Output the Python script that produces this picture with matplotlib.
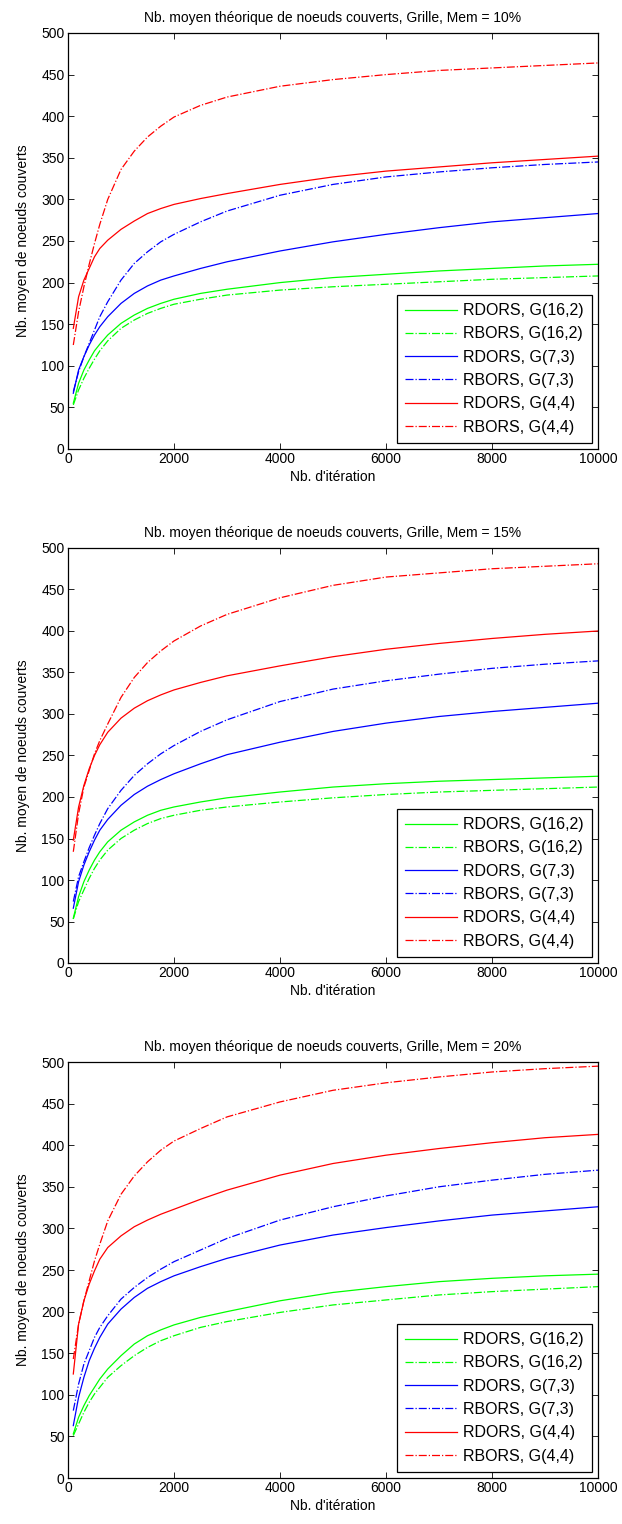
import matplotlib
matplotlib.use("Agg")
import matplotlib.pyplot as plt

plt.rcParams['font.family'] = ['Liberation Sans', 'DejaVu Sans']

iters = [100, 200, 300, 400, 500, 600, 750, 1000, 1250, 1500, 1750, 2000,
         2500, 3000, 4000, 5000, 6000, 7000, 8000, 9000, 10000]

mem_labels = ["10%", "15%", "20%"]
series_labels = ["RDORS, G(16,2)", "RBORS, G(16,2)", "RDORS, G(7,3)",
                 "RBORS, G(7,3)", "RDORS, G(4,4)", "RBORS, G(4,4)"]

# Mem = 10%
m10_rdors_16_2 = [55, 79, 95, 107, 118, 126, 137, 151, 161, 169, 175, 180, 187, 192, 200, 206, 210, 214, 217, 220, 222]
m10_rbors_16_2 = [53, 71, 85, 97, 108, 118, 130, 145, 155, 163, 169, 174, 180, 185, 191, 195, 198, 201, 204, 206, 208]
m10_rdors_7_3 = [67, 95, 111, 125, 137, 147, 159, 175, 187, 196, 203, 208, 217, 225, 238, 249, 258, 266, 273, 278, 283]
m10_rbors_7_3 = [69, 93, 111, 127, 143, 159, 177, 203, 223, 237, 249, 258, 273, 286, 305, 318, 327, 333, 338, 342, 345]
m10_rdors_4_4 = [145, 183, 203, 217, 231, 241, 251, 264, 274, 283, 289, 294, 301, 307, 318, 327, 334, 339, 344, 348, 352]
m10_rbors_4_4 = [125, 165, 195, 222, 247, 270, 300, 336, 358, 375, 388, 399, 413, 423, 436, 444, 450, 455, 458, 461, 464]

# Mem = 15%
m15_rdors_16_2 = [54, 80, 98, 112, 124, 134, 146, 160, 170, 178, 184, 188, 194, 199, 206, 212, 216, 219, 221, 223, 225]
m15_rbors_16_2 = [53, 74, 88, 102, 114, 124, 136, 150, 160, 168, 174, 178, 184, 188, 194, 199, 203, 206, 208, 210, 212]
m15_rdors_7_3 = [66, 98, 118, 134, 148, 160, 173, 190, 203, 213, 221, 228, 240, 251, 266, 279, 289, 297, 303, 308, 313]
m15_rbors_7_3 = [74, 104, 122, 139, 154, 168, 186, 208, 226, 240, 252, 262, 279, 293, 315, 330, 340, 348, 355, 360, 364]
m15_rdors_4_4 = [148, 188, 214, 234, 250, 263, 278, 295, 307, 316, 323, 329, 338, 346, 358, 369, 378, 385, 391, 396, 400]
m15_rbors_4_4 = [134, 180, 212, 232, 252, 268, 288, 320, 344, 362, 376, 388, 406, 420, 440, 455, 465, 470, 475, 478, 481]

# Mem = 20%
m20_rdors_16_2 = [53, 73, 87, 99, 109, 119, 131, 147, 161, 171, 178, 184, 193, 200, 213, 223, 230, 236, 240, 243, 245]
m20_rbors_16_2 = [51, 65, 79, 91, 101, 109, 121, 135, 147, 157, 165, 171, 181, 188, 199, 208, 214, 220, 224, 227, 230]
m20_rdors_7_3 = [63, 97, 121, 141, 156, 169, 185, 203, 217, 228, 236, 243, 254, 264, 280, 292, 301, 309, 316, 321, 326]
m20_rbors_7_3 = [81, 113, 137, 153, 169, 181, 195, 215, 229, 241, 251, 260, 274, 288, 310, 326, 339, 350, 358, 365, 370]
m20_rdors_4_4 = [125, 185, 213, 233, 249, 263, 277, 291, 302, 310, 317, 323, 335, 346, 364, 378, 388, 396, 403, 409, 413]
m20_rbors_4_4 = [143, 185, 213, 237, 261, 281, 309, 341, 363, 380, 394, 405, 420, 434, 452, 466, 475, 482, 488, 492, 495]

all_data = [
    [m10_rdors_16_2, m10_rbors_16_2, m10_rdors_7_3, m10_rbors_7_3, m10_rdors_4_4, m10_rbors_4_4],
    [m15_rdors_16_2, m15_rbors_16_2, m15_rdors_7_3, m15_rbors_7_3, m15_rdors_4_4, m15_rbors_4_4],
    [m20_rdors_16_2, m20_rbors_16_2, m20_rdors_7_3, m20_rbors_7_3, m20_rdors_4_4, m20_rbors_4_4],
]

colors = ["#00ff00", "#00ff00", "#0000ff", "#0000ff", "#ff0000", "#ff0000"]
styles = ["-", "-.", "-", "-.", "-", "-."]

W, H = 622, 1524
fig = plt.figure(figsize=(W / 100, H / 100), dpi=100)

axes_px = [(33, 449), (548, 963), (1062, 1478)]
left_px, right_px = 68, 598

for k, (top, bot) in enumerate(axes_px):
    ax = fig.add_axes([left_px / W, 1 - bot / H, (right_px - left_px) / W, (bot - top) / H])
    for s in range(6):
        ax.plot(iters, all_data[k][s], color=colors[s], linestyle=styles[s],
                linewidth=0.9, label=series_labels[s])
    ax.set_xlim(0, 10000)
    ax.set_ylim(0, 500)
    ax.set_xticks(range(0, 10001, 2000))
    ax.set_yticks(range(0, 501, 50))
    ax.tick_params(direction='in', top=True, right=True, labelsize=10, length=4, width=0.6, pad=2.5)
    for sp in ax.spines.values():
        sp.set_linewidth(0.9)
    ax.set_title("Nb. moyen théorique de noeuds couverts, Grille, Mem = " + mem_labels[k],
                 fontsize=10, pad=8)
    ax.set_xlabel("Nb. d'itération", fontsize=10, labelpad=2.5)
    ax.set_ylabel("Nb. moyen de noeuds couverts", fontsize=10, labelpad=8)
    leg = ax.legend(loc='lower right', fontsize=11.5, fancybox=False, framealpha=1,
                    edgecolor='black', borderaxespad=0.4, handlelength=3.3,
                    handletextpad=0.35, labelspacing=0.52, borderpad=0.5)
    leg.get_frame().set_linewidth(0.9)

fig.savefig("out.png", dpi=100)
